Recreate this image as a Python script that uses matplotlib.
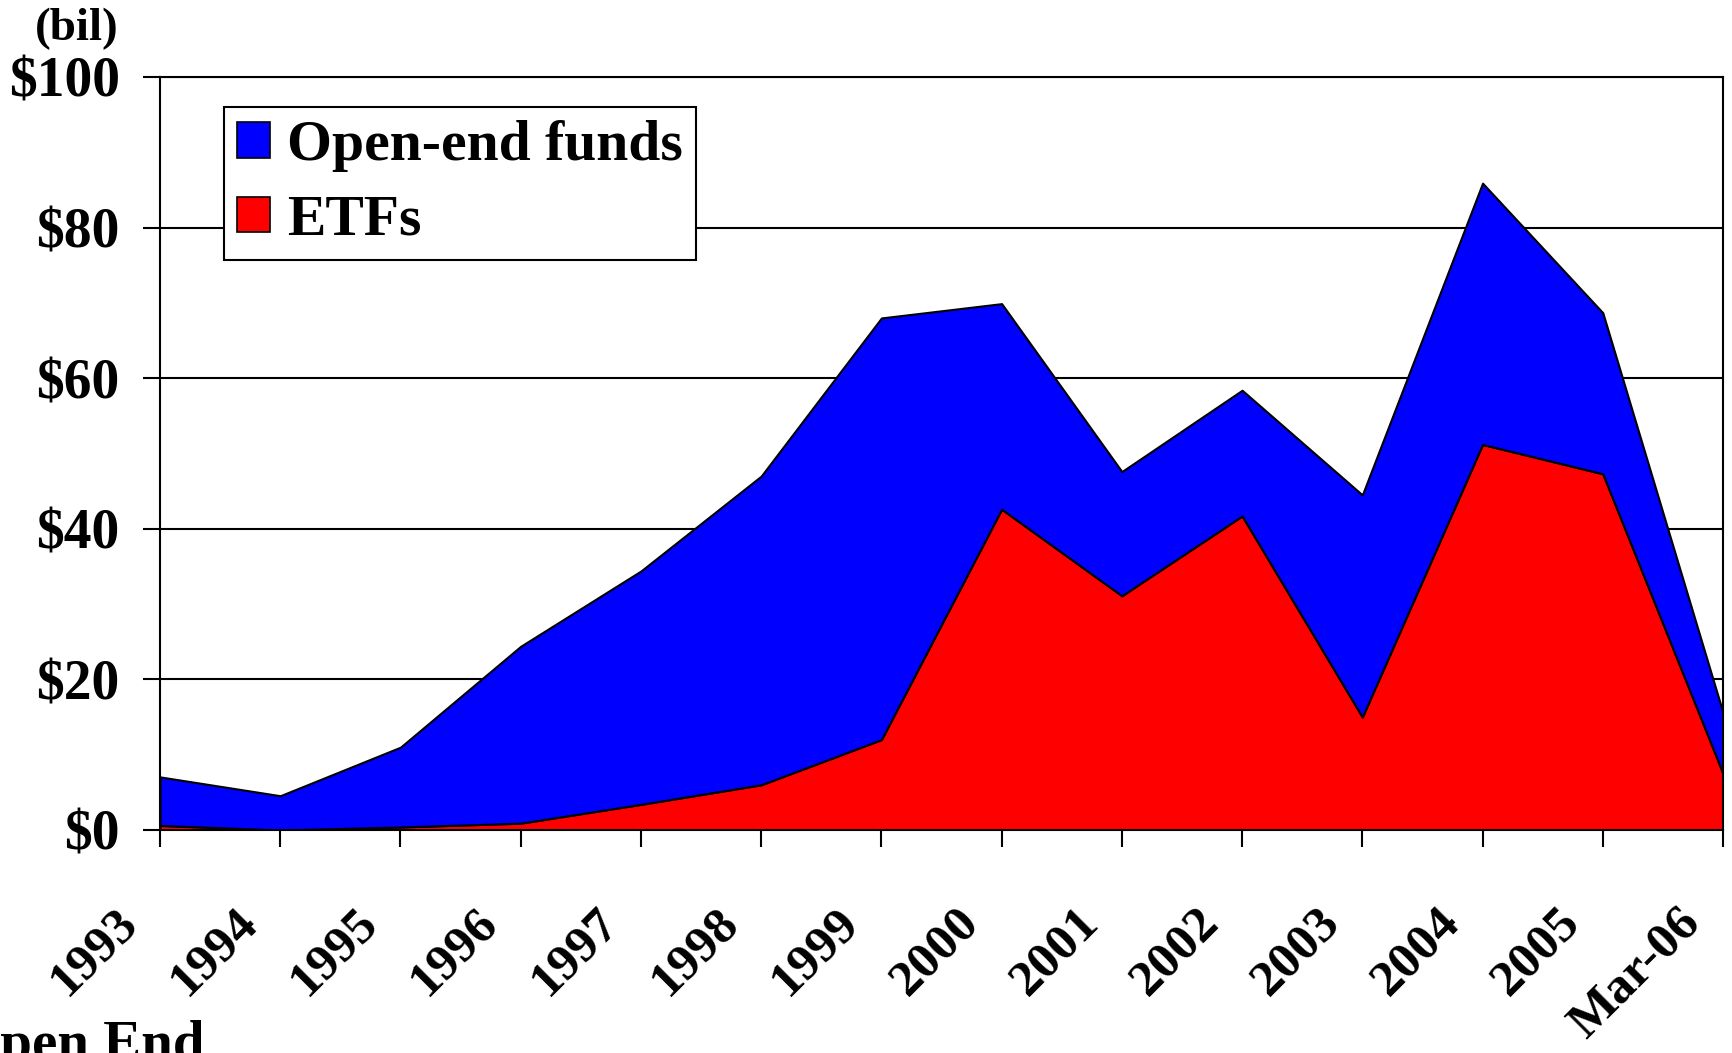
import matplotlib.pyplot as plt
import matplotlib.transforms as mtransforms
from matplotlib.patches import Patch

plt.rcParams['font.family'] = ['Liberation Serif', 'DejaVu Serif']
plt.rcParams['font.weight'] = 'bold'

# values, $ billions
years = ['1993', '1994', '1995', '1996', '1997', '1998', '1999',
         '2000', '2001', '2002', '2003', '2004', '2005', 'Mar-06']
etfs = [0.6, 0.0, 0.4, 0.9, 3.4, 6.0, 12.0, 42.6, 31.1, 41.7, 15.0, 51.2, 47.3, 7.5]
open_end = [6.45, 4.55, 10.6, 23.5, 31.0, 41.0, 56.0, 27.3, 16.5, 16.7, 29.5, 34.7, 21.4, 8.1]
y_ticks = [0, 20, 40, 60, 80, 100]
y_labels = ['$0', '$20', '$40', '$60', '$80', '$100']

fig = plt.figure(figsize=(17.32, 10.53), dpi=100)
ax = fig.add_axes([0.0924, 0.2118, 0.9024, 0.7151])

x = list(range(len(years)))
ax.stackplot(x, etfs, open_end, colors=['#ff0000', '#0000ff'],
             edgecolor='black', linewidth=1.5, zorder=2)

ax.set_xlim(0, len(years) - 1)
ax.set_ylim(0, 100)
ax.set_yticks(y_ticks)
ax.set_yticklabels(y_labels, fontsize=40, fontweight='bold')
ax.yaxis.grid(True, color='black', linewidth=1.5, zorder=1)
ax.set_axisbelow(True)

ax.set_xticks(x)
ax.set_xticklabels(years, fontsize=37, fontweight='bold', rotation=45,
                   ha='right', va='top', rotation_mode='anchor')
ax.tick_params(axis='x', direction='out', length=12, width=1.5, pad=38)
ax.tick_params(axis='y', direction='out', length=12, width=1.5, pad=17)
# pull the slanted year labels left of their ticks
shift = mtransforms.ScaledTranslation(-46 / 100, 0, fig.dpi_scale_trans)
for lbl in ax.get_xticklabels():
    lbl.set_transform(lbl.get_transform() + shift)
for s in ax.spines.values():
    s.set_linewidth(1.5)

fig.text(119 / 1732, 1 - 8 / 1053, '(bil)', fontsize=34, fontweight='bold',
         ha='right', va='top')
fig.text(-44 / 1732, 1 - 1060 / 1053, 'Open End', fontsize=41, fontweight='bold',
         ha='left', va='baseline')

handles = [Patch(facecolor='#0000ff', edgecolor='black', linewidth=1.2),
           Patch(facecolor='#ff0000', edgecolor='black', linewidth=1.2)]
leg = ax.legend(handles, ['Open-end funds', 'ETFs'], loc='upper left',
                bbox_to_anchor=(0.041, 0.96), fontsize=41.5, frameon=True,
                fancybox=False, edgecolor='black', framealpha=1,
                handlelength=0.57, handleheight=0.57, handletextpad=0.29,
                borderpad=0.23, labelspacing=0.39, borderaxespad=0)
leg.get_frame().set_linewidth(1.5)

fig.savefig('out.png', dpi=100)
